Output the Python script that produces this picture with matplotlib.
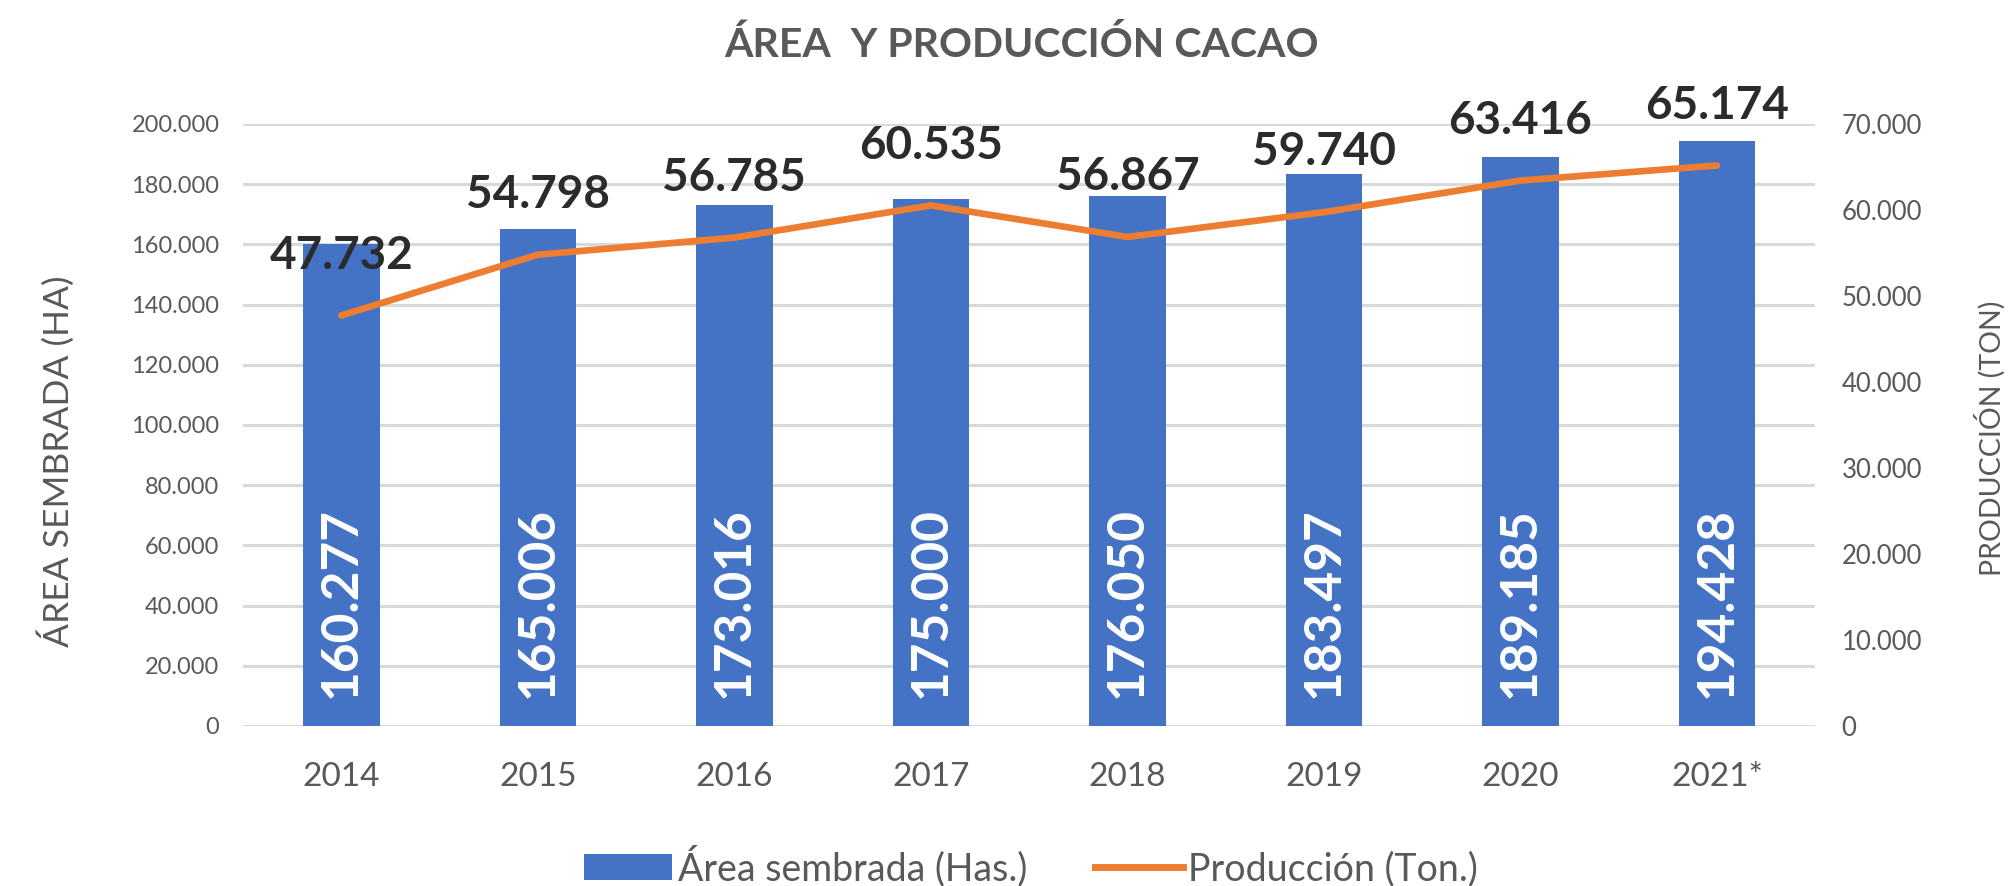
import matplotlib
matplotlib.use("Agg")
import matplotlib.pyplot as plt
from matplotlib.patches import Patch
from matplotlib.lines import Line2D
from matplotlib.ticker import FuncFormatter, MultipleLocator

years = ["2014", "2015", "2016", "2017", "2018", "2019", "2020", "2021*"]
area = [160277, 165006, 173016, 175000, 176050, 183497, 189185, 194428]
produccion = [47732, 54798, 56785, 60535, 56867, 59740, 63416, 65174]

BLUE = "#4472C4"
ORANGE = "#ED7D31"
GRAY = "#595959"
GRID = "#D9D9D9"

def fmt(v):
    return f"{int(round(v)):,}".replace(",", ".")

fig = plt.figure(figsize=(20.09, 8.86), dpi=100)
ax = fig.add_axes([0.121, 0.1806, 0.7825, 0.6795])
ax2 = ax.twinx()

x = list(range(len(years)))
ax.bar(x, area, width=0.39, color=BLUE, zorder=2)
ax.set_xlim(-0.5, len(years) - 0.5)
ax.set_ylim(0, 200000)
ax.yaxis.set_major_locator(MultipleLocator(20000))
ax.yaxis.set_major_formatter(FuncFormatter(lambda v, p: fmt(v)))
ax.grid(axis="y", color=GRID, linewidth=2.2, zorder=0)
ax.set_axisbelow(True)
for s in ax.spines.values():
    s.set_visible(False)
for s in ax2.spines.values():
    s.set_visible(False)
ax.tick_params(axis="both", length=0)
ax.tick_params(axis="y", labelsize=17, labelcolor=GRAY, pad=17)
ax.tick_params(axis="x", labelsize=24, labelcolor=GRAY, pad=26)
ax.set_xticks(x)
ax.set_xticklabels(years, family="Lato")
for lab in ax.get_yticklabels():
    lab.set_family("Lato")

ax2.plot(x, produccion, color=ORANGE, linewidth=4.8, solid_capstyle="round", zorder=3)
ax2.set_ylim(0, 70000)
ax2.yaxis.set_major_locator(MultipleLocator(10000))
ax2.yaxis.set_major_formatter(FuncFormatter(lambda v, p: fmt(v)))
ax2.tick_params(axis="y", length=0, labelsize=18.5, labelcolor=GRAY, pad=19)
for lab in ax2.get_yticklabels():
    lab.set_family("Lato")

for xi, v in zip(x, area):
    ax.text(xi, 9300, fmt(v), rotation=90, ha="center", va="bottom",
            color="white", fontsize=37, fontweight="bold", family="Lato", zorder=4)

for xi, v in zip(x, produccion):
    ax2.annotate(fmt(v), (xi, v), xytext=(0, 43), textcoords="offset points",
                 ha="center", va="center", fontsize=33, fontweight="bold",
                 color="#2B2B2B", family="Lato", zorder=5)

fig.text(1021 / 2009, 1 - 45 / 886, "ÁREA  Y PRODUCCIÓN CACAO", ha="center", va="center",
         fontsize=29.5, fontweight="bold", color=GRAY, family="Lato")
fig.text(56 / 2009, 1 - 461 / 886, "ÁREA SEMBRADA (HA)", rotation=90, ha="center",
         va="center", fontsize=25.5, color=GRAY, family="Lato")
fig.text(1990 / 2009, 1 - 438 / 886, "PRODUCCIÓN (TON)", rotation=90, ha="center",
         va="center", fontsize=20.5, color=GRAY, family="Lato")

handles = [Patch(facecolor=BLUE), Line2D([0], [0], color=ORANGE, linewidth=5)]
fig.legend(handles, ["Área sembrada (Has.)", "Producción (Ton.)"], loc="center",
           bbox_to_anchor=(1031 / 2009, 1 - 866 / 886), ncol=2, frameon=False,
           prop={"family": "Lato", "size": 27}, labelcolor=GRAY,
           handlelength=2.35, handletextpad=0.15, columnspacing=1.8)

fig.savefig("out.png", dpi=100)
